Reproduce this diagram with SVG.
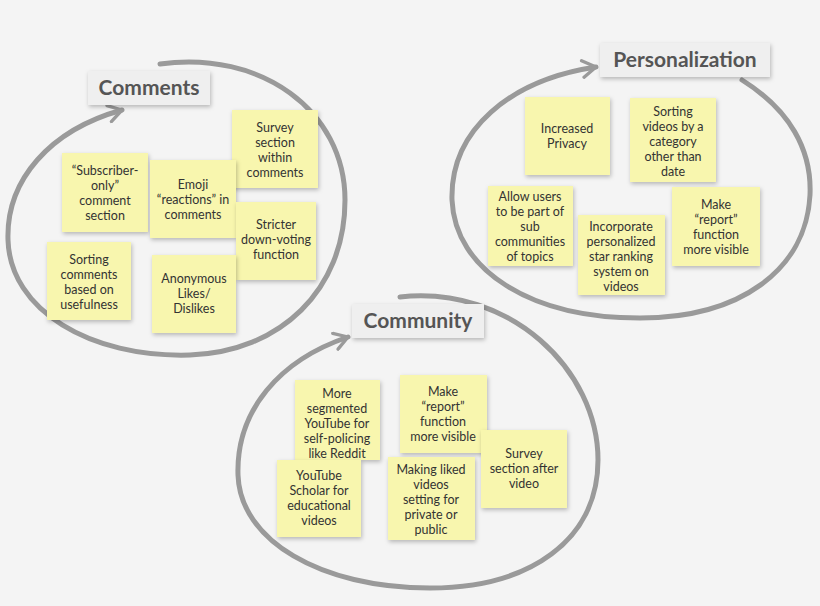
<svg xmlns="http://www.w3.org/2000/svg" width="820" height="606" viewBox="0 0 820 606">
<style>
.loop{fill:none;stroke:#9a9a9a;stroke-width:5;stroke-linecap:round}
.note rect{fill:#f8f6ae;filter:drop-shadow(1px 2px 2px rgba(0,0,0,0.25))}
.note text{font-family:Lato,"Liberation Sans",sans-serif;font-size:12.5px;fill:#333;text-anchor:middle}
.title rect{fill:#efefef;filter:drop-shadow(1px 2px 2px rgba(0,0,0,0.25))}
.title text{font-family:Lato,"Liberation Sans",sans-serif;font-size:21px;font-weight:bold;fill:#555;text-anchor:middle}
</style>
<defs><marker id="ah" viewBox="0 0 12 12" refX="10" refY="6" markerWidth="4" markerHeight="4" orient="auto" markerUnits="strokeWidth"><path d="M2,1 L10,6 L2,11" fill="none" stroke="#9a9a9a" stroke-width="2" stroke-linecap="round" stroke-linejoin="round"/></marker></defs>
<rect width="820" height="606" fill="#f4f4f4"/>
<g id="connectors">
<path class="loop" marker-end="url(#ah)" d="M160,64 C260,50 345,110 345,200 C345,290 280,352 190,355 C90,358 10,310 8,240 C6,180 50,130 122,110"/>
<path class="loop" marker-end="url(#ah)" d="M742,80 C790,110 812,150 810,195 C806,270 740,318 640,318 C530,318 455,270 452,200 C450,130 510,80 596,67"/>
<path class="loop" marker-end="url(#ah)" d="M400,297 C510,285 598,370 598,460 C598,540 530,588 430,588 C320,588 240,540 238,475 C236,410 280,360 348,337"/>
</g>
<g id="t-comments" class="title"><rect x="88" y="71" width="122" height="34"/><text x="149" y="95">Comments</text></g>
<g id="t-personalization" class="title"><rect x="600" y="43" width="170" height="34"/><text x="685" y="67">Personalization</text></g>
<g id="t-community" class="title"><rect x="352" y="304" width="132" height="34"/><text x="418" y="328">Community</text></g>

<g id="n1" class="note"><rect x="232" y="110" width="86" height="78"/><text x="275" y="132">Survey</text><text x="275" y="147">section</text><text x="275" y="162">within</text><text x="275" y="177">comments</text></g>
<g id="n2" class="note"><rect x="62" y="153" width="86" height="79"/><text x="105" y="175">“Subscriber-</text><text x="105" y="190">only”</text><text x="105" y="205">comment</text><text x="105" y="220">section</text></g>
<g id="n3" class="note"><rect x="150" y="160" width="86" height="78"/><text x="193" y="189">Emoji</text><text x="193" y="204">“reactions” in</text><text x="193" y="219">comments</text></g>
<g id="n4" class="note"><rect x="236" y="202" width="80" height="78"/><text x="276" y="229">Stricter</text><text x="276" y="244">down-voting</text><text x="276" y="259">function</text></g>
<g id="n5" class="note"><rect x="47" y="242" width="84" height="78"/><text x="89" y="264">Sorting</text><text x="89" y="279">comments</text><text x="89" y="294">based on</text><text x="89" y="309">usefulness</text></g>
<g id="n6" class="note"><rect x="152" y="255" width="84" height="78"/><text x="194" y="283">Anonymous</text><text x="194" y="298">Likes/</text><text x="194" y="313">Dislikes</text></g>

<g id="n7" class="note"><rect x="525" y="97" width="85" height="78"/><text x="567" y="133">Increased</text><text x="567" y="148">Privacy</text></g>
<g id="n8" class="note"><rect x="630" y="98" width="86" height="84"/><text x="673" y="116">Sorting</text><text x="673" y="131">videos by a</text><text x="673" y="146">category</text><text x="673" y="161">other than</text><text x="673" y="176">date</text></g>
<g id="n9" class="note"><rect x="488" y="186" width="85" height="80"/><text x="530" y="201">Allow users</text><text x="530" y="216">to be part of</text><text x="530" y="231">sub</text><text x="530" y="246">communities</text><text x="530" y="261">of topics</text></g>
<g id="n10" class="note"><rect x="578" y="215" width="87" height="80"/><text x="621" y="231">Incorporate</text><text x="621" y="246">personalized</text><text x="621" y="261">star ranking</text><text x="621" y="276">system on</text><text x="621" y="291">videos</text></g>
<g id="n11" class="note"><rect x="672" y="187" width="88" height="79"/><text x="716" y="209">Make</text><text x="716" y="224">“report”</text><text x="716" y="239">function</text><text x="716" y="254">more visible</text></g>

<g id="n12" class="note"><rect x="295" y="380" width="85" height="80"/><text x="337" y="398">More</text><text x="337" y="413">segmented</text><text x="337" y="428">YouTube for</text><text x="337" y="443">self-policing</text><text x="337" y="458">like Reddit</text></g>
<g id="n13" class="note"><rect x="400" y="375" width="87" height="78"/><text x="443" y="396">Make</text><text x="443" y="411">“report”</text><text x="443" y="426">function</text><text x="443" y="441">more visible</text></g>
<g id="n14" class="note"><rect x="277" y="460" width="84" height="77"/><text x="319" y="480">YouTube</text><text x="319" y="495">Scholar for</text><text x="319" y="510">educational</text><text x="319" y="525">videos</text></g>
<g id="n15" class="note"><rect x="388" y="457" width="87" height="83"/><text x="431" y="474">Making liked</text><text x="431" y="489">videos</text><text x="431" y="504">setting for</text><text x="431" y="519">private or</text><text x="431" y="534">public</text></g>
<g id="n16" class="note"><rect x="481" y="430" width="86" height="78"/><text x="524" y="458">Survey</text><text x="524" y="473">section after</text><text x="524" y="488">video</text></g>
</svg>
